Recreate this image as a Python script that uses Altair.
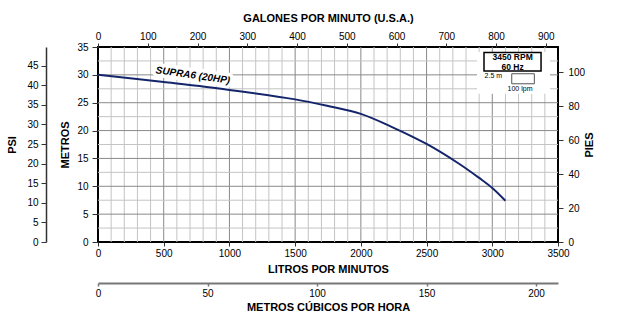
import altair as alt
import pandas as pd

# ---- data ----
lpm = [0, 500, 1000, 1500, 1750, 2000, 2250, 2500, 2750, 2900, 3000, 3100]
metros = [30.0, 28.7, 27.3, 25.6, 24.4, 23.0, 20.5, 17.6, 14.0, 11.5, 9.7, 7.4]

lpm_ticks = [0, 500, 1000, 1500, 2000, 2500, 3000, 3500]
lpm_grid = list(range(0, 3501, 100))
m_ticks = [0, 5, 10, 15, 20, 25, 30, 35]
m_grid = [i * 2.5 for i in range(15)]
gpm_ticks = [0, 100, 200, 300, 400, 500, 600, 700, 800, 900]
m3h_ticks = [0, 50, 100, 150, 200]
psi_ticks = [0, 5, 10, 15, 20, 25, 30, 35, 40, 45]
ft_ticks = [0, 20, 40, 60, 80, 100]

curve_name = ["SUPRA6 (20HP)"]
legend_lines = ["3450 RPM", "60 Hz"]
scale_labels = ["2.5 m", "100 lpm"]

LPM_MAX = 3500
M_MAX = 35
GPM_F = 3.78541
M3H_F = 0.06
PSI_F = 1.42197
FT_F = 3.28084

FONT = "Liberation Sans"
NAVY = "#15256b"

df = pd.DataFrame({"lpm": lpm, "m": metros})
df["gpm"] = df["lpm"] / GPM_F
df["m3h"] = df["lpm"] * M3H_F
df["psi"] = df["m"] * PSI_F
df["ft"] = df["m"] * FT_F

xs = alt.Scale(domain=[0, LPM_MAX], nice=False, zero=True)
ys = alt.Scale(domain=[0, M_MAX], nice=False, zero=True)

def axis_common(**kw):
    base = dict(labelFont=FONT, titleFont=FONT, labelFontSize=10, titleFontSize=11,
                labelColor="black", titleColor="black", titleFontWeight="bold",
                tickColor="#333", grid=False, labelFlush=False)
    base.update(kw)
    return alt.Axis(**base)

def X(field):
    return alt.X(field, scale=xs, axis=None)

def Y(field):
    return alt.Y(field, scale=ys, axis=None)

# grid
minor_v = pd.DataFrame({"v": [v for v in lpm_grid if v % 500 != 0]})
major_v = pd.DataFrame({"v": [v for v in lpm_grid if v % 500 == 0 and 0 < v < LPM_MAX]})
minor_h = pd.DataFrame({"v": [v for v in m_grid if v % 5 != 0]})
major_h = pd.DataFrame({"v": [v for v in m_grid if v % 5 == 0 and 0 < v < M_MAX]})

g1 = alt.Chart(minor_v).mark_rule(color="#c4c4c4", strokeWidth=1).encode(x=X("v:Q"))
g2 = alt.Chart(major_v).mark_rule(color="#8a8a8a", strokeWidth=1).encode(x=X("v:Q"))
g3 = alt.Chart(minor_h).mark_rule(color="#c4c4c4", strokeWidth=1).encode(y=Y("v:Q"))
g4 = alt.Chart(major_h).mark_rule(color="#8a8a8a", strokeWidth=1).encode(y=Y("v:Q"))

# curve label (with white halo like the reference)
lab = pd.DataFrame({"x": [722], "y": [29.9], "t": curve_name})
halo = alt.Chart(lab).mark_text(font=FONT, fontSize=10, fontWeight="bold", fontStyle="italic",
                                angle=8, color="white", stroke="white", strokeWidth=7).encode(
    x=X("x:Q"), y=Y("y:Q"), text="t:N")
label = alt.Chart(lab).mark_text(font=FONT, fontSize=10, fontWeight="bold", fontStyle="italic",
                                 angle=8, color="black").encode(
    x=X("x:Q"), y=Y("y:Q"), text="t:N")

# main curve with LPM (bottom) and METROS (left) axes
curve = alt.Chart(df).mark_line(color=NAVY, strokeWidth=2, interpolate="catmull-rom").encode(
    x=alt.X("lpm:Q", scale=xs, axis=axis_common(
        orient="bottom", values=lpm_ticks, title="LITROS POR MINUTOS", domain=False,
        tickSize=4, labelPadding=2, titlePadding=5, format="d")),
    y=alt.Y("m:Q", scale=ys, axis=axis_common(
        orient="left", values=m_ticks, title="METROS", domain=False,
        tickSize=6, labelPadding=4, titlePadding=6)),
)

# legend box (annotation)
white_bg = pd.DataFrame({"x": [2884], "x2": [3439], "y": [26.6], "y2": [34.1]})
bgl = alt.Chart(white_bg).mark_rect(fill="white").encode(
    x=X("x:Q"), x2="x2", y=Y("y:Q"), y2="y2")
rpm_box = pd.DataFrame({"x": [2937], "x2": [3371], "y": [30.69], "y2": [34.01]})
boxl = alt.Chart(rpm_box).mark_rect(fill="white", stroke="black", strokeWidth=1.5).encode(
    x=X("x:Q"), x2="x2", y=Y("y:Q"), y2="y2")
rpm_txt = pd.DataFrame({"x": [3155, 3155], "y": [33.12, 31.5], "t": legend_lines})
rpml = alt.Chart(rpm_txt).mark_text(font=FONT, fontSize=8.5, fontWeight="bold", color="black").encode(
    x=X("x:Q"), y=Y("y:Q"), text="t:N")
small_box = pd.DataFrame({"x": [3148], "x2": [3320], "y": [28.4], "y2": [30.2]})
sboxl = alt.Chart(small_box).mark_rect(fill="white", stroke="#555", strokeWidth=1).encode(
    x=X("x:Q"), x2="x2", y=Y("y:Q"), y2="y2")
small_txt = pd.DataFrame({"x": [3008, 3211], "y": [29.74, 27.5], "t": scale_labels})
stl = alt.Chart(small_txt).mark_text(font=FONT, fontSize=7, color="black").encode(
    x=X("x:Q"), y=Y("y:Q"), text="t:N")

# extra axes
top_ax = alt.Chart(df).mark_line(opacity=0).encode(
    x=alt.X("gpm:Q", scale=alt.Scale(domain=[0, LPM_MAX / GPM_F], nice=False),
            axis=axis_common(orient="top", values=gpm_ticks, title="GALONES POR MINUTO (U.S.A.)",
                             domain=False, tickSize=4, labelPadding=2, titlePadding=8)),
    y=Y("m:Q"))
m3h_ax = alt.Chart(df).mark_line(opacity=0).encode(
    x=alt.X("m3h:Q", scale=alt.Scale(domain=[0, LPM_MAX * M3H_F], nice=False),
            axis=axis_common(orient="bottom", offset=41, values=m3h_ticks,
                             title="METROS CÚBICOS POR HORA", domain=True, domainColor="#777",
                             domainWidth=2, tickColor="#777", tickSize=3, tickWidth=1.5,
                             labelPadding=2, titlePadding=3)),
    y=Y("m:Q"))
psi_ax = alt.Chart(df).mark_line(opacity=0).encode(
    x=X("lpm:Q"),
    y=alt.Y("psi:Q", scale=alt.Scale(domain=[0, M_MAX * PSI_F], nice=False),
            axis=axis_common(orient="left", offset=52, values=psi_ticks, title="PSI",
                             domain=True, domainColor="#333", domainWidth=1.5,
                             tickSize=5, labelPadding=3, titlePadding=9)))
ft_ax = alt.Chart(df).mark_line(opacity=0).encode(
    x=X("lpm:Q"),
    y=alt.Y("ft:Q", scale=alt.Scale(domain=[0, M_MAX * FT_F], nice=False),
            axis=axis_common(orient="right", values=ft_ticks, title="PIES", domain=False,
                             tickSize=5, labelPadding=5, titlePadding=10, titleAngle=270)))

chart = alt.layer(g1, g2, g3, g4, halo, label, curve, bgl, boxl, rpml, sboxl, stl,
                  top_ax, m3h_ax, psi_ax, ft_ax).resolve_scale(
    x="independent", y="independent").resolve_axis(x="independent", y="independent").properties(
    width=460, height=195,
    autosize=alt.AutoSizeParams(type="none"),
    padding={"left": 98, "top": 47, "right": 64, "bottom": 83},
    background="white",
).configure_view(stroke="black", strokeWidth=2)

chart.save("out.html", embed_options={"renderer": "svg", "actions": False})
